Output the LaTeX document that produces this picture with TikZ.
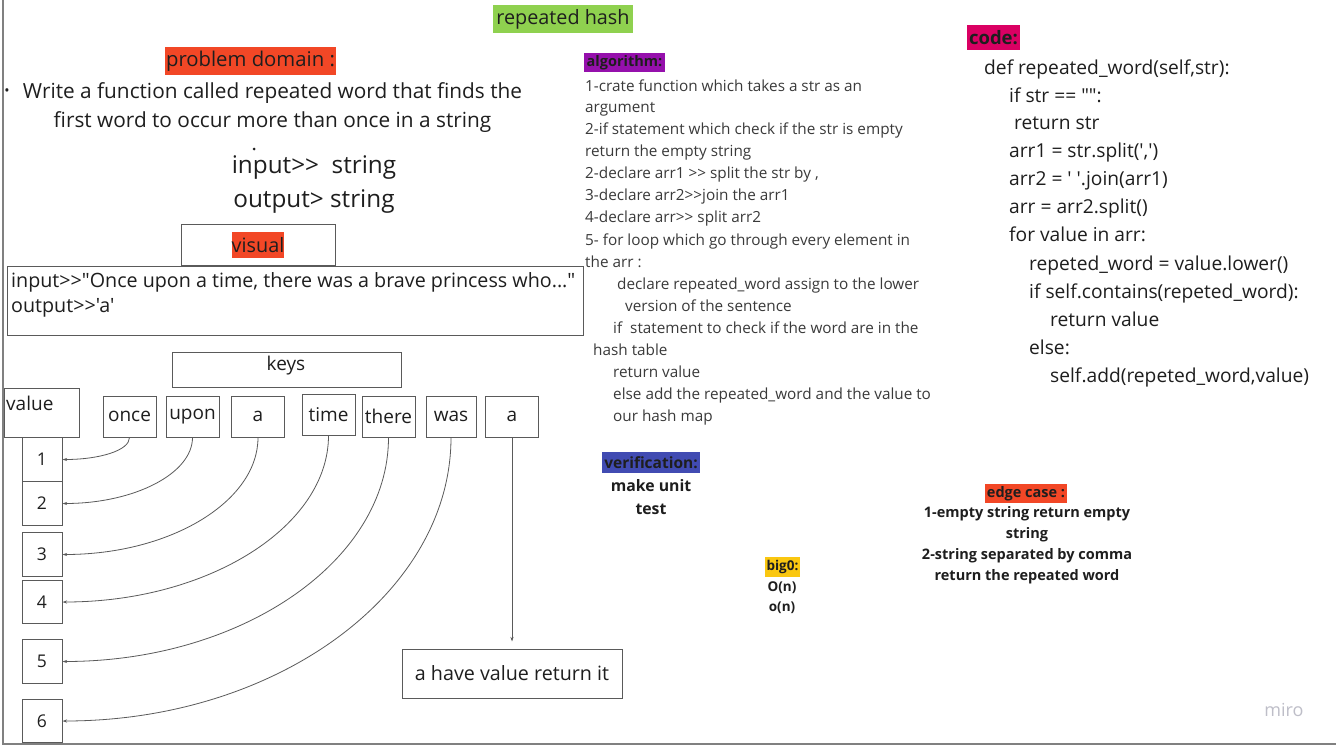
\documentclass[tikz,border=0pt]{standalone}
\usepackage{fontspec}
\setmainfont{Open Sans}
\newfontfamily\osans{Open Sans}
\usetikzlibrary{arrows.meta}
\definecolor{mgreen}{HTML}{8FD14F}
\definecolor{mred}{HTML}{F24726}
\definecolor{mpurple}{HTML}{9510AC}
\definecolor{mblue}{HTML}{414BB2}
\definecolor{mmag}{HTML}{DA0063}
\definecolor{myellow}{HTML}{FAC710}
\definecolor{txt}{HTML}{1E1E1E}
\definecolor{algtxt}{HTML}{3A3A3A}
\definecolor{boxline}{HTML}{5A5A5A}
\definecolor{frame}{HTML}{808080}
\tikzset{
  fs/.style={font=\osans\fontsize{#1}{#1}\selectfont},
  hl/.style={inner sep=0pt, text=txt},
  plainbox/.style={draw=boxline, line width=1pt, inner sep=0pt},
  keybox/.style={plainbox, minimum width=53pt, minimum height=41pt, fs=19, text=txt},
  numbox/.style={plainbox, minimum width=40pt, minimum height=43.5pt, fs=17.5, text=txt},
  algline/.style={anchor=base west, inner sep=0pt, fs=15.3, text=algtxt},
  codeline/.style={anchor=base west, inner sep=0pt, fs=19.2, text=txt},
  boldline/.style={inner sep=0pt, font=\bfseries\fontsize{14.5}{14.5}\selectfont, text=txt},
  conn/.style={draw=boxline, line width=0.8pt, -{Stealth[length=4.5pt,width=3pt]}},
}
\begin{document}
\begin{tikzpicture}[x=1pt,y=-1pt]
\useasboundingbox (0,0) rectangle (1336,747);
\fill[white] (0,0) rectangle (1336,747);
% frame
\draw[frame, line width=1.5pt] (3,0) -- (3,744) -- (1336,744);

% title
\node[hl, fill=mgreen, minimum width=140pt, minimum height=28pt, fs=19.8] (title) at (563,19) {\raisebox{-1.5pt}{repeated hash}};

% problem domain
\node[hl, fill=mred, minimum width=171pt, minimum height=28pt, fs=20.3] (pd) at (250.5,61) {\raisebox{-1.5pt}{problem domain :}};
\node[inner sep=0pt, fs=14, text=txt] (bullet) at (7,92) {•};
\node[inner sep=0pt, fs=20.8, text=txt] (pd1) at (272.5,93) {Write a function called repeated word that finds the};
\node[inner sep=0pt, fs=20.8, text=txt] (pd2) at (272.5,122) {first word to occur more than once in a string};
\fill[txt] (254,149) circle (1.5pt);
\node[inner sep=0pt, fs=24.3, text=txt] (inp) at (314,167) {input>{}>\ \ string};
\node[inner sep=0pt, fs=24.3, text=txt] (outp) at (314,201) {output> string};

% visual
\node[plainbox, minimum width=154pt, minimum height=41pt] (visbox) at (258,244.5) {};
\node[hl, fill=mred, minimum width=52pt, minimum height=26pt, fs=19.8] (vis) at (258,245) {\raisebox{-1.5pt}{visual}};
\node[plainbox, minimum width=576pt, minimum height=69pt] (inbox) at (295,300.5) {};
\node[anchor=west, inner sep=0pt, fs=19.7, text=txt] (in1) at (11,282) {input>{}>"Once upon a time, there was a brave princess who..."};
\node[anchor=west, inner sep=0pt, fs=19.7, text=txt] (in2) at (11,308) {output>{}>'a'};

% keys
\node[plainbox, minimum width=229pt, minimum height=35pt] (keys) at (286.5,369.5) {};
\node[inner sep=0pt, fs=19, text=txt] (keyst) at (286,366) {keys};
\node[plainbox, minimum width=75pt, minimum height=49pt] (value) at (41.5,412.5) {};
\node[anchor=west, inner sep=0pt, fs=19, text=txt] (valuet) at (6,403) {value};

\node[keybox] (k1) at (129.5,416.5) {once};
\node[keybox] (k2) at (192.5,416.5) {upon};
\node[keybox] (k3) at (258,416.5) {a};
\node[keybox] (k4) at (328.5,414.5) {time};
\node[keybox] (k5) at (388.5,416.5) {there};
\node[keybox, minimum width=50pt] (k6) at (451,416.5) {was};
\node[keybox] (k7) at (512,416.5) {a};

\node[numbox] (n1) at (42,459.5) {1};
\node[numbox] (n2) at (42,503.5) {2};
\node[numbox] (n3) at (42,554.5) {3};
\node[numbox] (n4) at (42,602) {4};
\node[numbox] (n5) at (42,661.5) {5};
\node[numbox] (n6) at (42,721) {6};

\node[plainbox, minimum width=220pt, minimum height=49pt, fs=19.7, text=txt] (ans) at (512,673.5) {a have value return it};

\draw[conn] (k1.south) .. controls +(0,13) and +(37,0) .. (n1.east);
\draw[conn] (k2.south) .. controls +(0,36) and +(72,0) .. (n2.east);
\draw[conn] (k3.south) .. controls +(0,64) and +(108,0) .. (n3.east);
\draw[conn] (k4.south) .. controls +(0,91) and +(146,0) .. (n4.east);
\draw[conn] (k5.south) .. controls +(0,123) and +(180,0) .. (n5.east);
\draw[conn] (k6.south) .. controls +(0,156) and +(214,0) .. (n6.east);
\draw[conn, shorten >=7pt] (k7.south) -- (ans.north);

% algorithm
\node[hl, fill=mpurple, minimum width=81pt, minimum height=19pt, font=\bfseries\fontsize{14.5}{14.5}\selectfont] (alg) at (624.5,62.5) {algorithm:};
\node[algline] (a1) at (585,91) {1-crate function which takes a str as an};
\node[algline] (a2) at (585,112) {argument};
\node[algline] (a3) at (585,134) {2-if statement which check if the str is empty};
\node[algline] (a4) at (585,156) {return the empty string};
\node[algline] (a5) at (585,178) {2-declare arr1 >{}> split the str by ,};
\node[algline] (a6) at (585,200) {3-declare arr2>{}>join the arr1};
\node[algline] (a7) at (585,222) {4-declare arr>{}> split arr2};
\node[algline] (a8) at (585,245) {5- for loop which go through every element in};
\node[algline] (a9) at (585,267) {the arr :};
\node[algline] (a10) at (617,289) {declare repeated\_word assign to the lower};
\node[algline] (a11) at (625,311) {version of the sentence};
\node[algline] (a12) at (613,333) {if\ \ statement to check if the word are in the};
\node[algline] (a13) at (593,355) {hash table};
\node[algline] (a14) at (613,377) {return value};
\node[algline] (a15) at (613,399) {else add the repeated\_word and the value to};
\node[algline] (a16) at (613,421) {our hash map};

% verification
\node[hl, fill=mblue, minimum width=98pt, minimum height=21pt, font=\bfseries\fontsize{15.5}{15.5}\selectfont] (ver) at (651,462.5) {verification:};
\node[boldline, font=\bfseries\fontsize{15.8}{15.8}\selectfont] (ver1) at (651,486) {make unit};
\node[boldline, font=\bfseries\fontsize{15.8}{15.8}\selectfont] (ver2) at (651,509) {test};

% big O
\node[hl, fill=myellow, minimum width=35pt, minimum height=20pt, font=\bfseries\fontsize{13.5}{13.5}\selectfont] (big) at (782.5,567) {big0:};
\node[boldline, font=\bfseries\fontsize{13.5}{13.5}\selectfont] (big1) at (782,588) {O(n)};
\node[boldline, font=\bfseries\fontsize{13.5}{13.5}\selectfont] (big2) at (782,608) {o(n)};

% edge case
\node[hl, fill=mred, minimum width=82pt, minimum height=19pt, font=\bfseries\fontsize{14.5}{14.5}\selectfont] (edge) at (1026,493.5) {edge case :};
\node[boldline] (e1) at (1027,514) {1-empty string return empty};
\node[boldline] (e2) at (1027,535) {string};
\node[boldline] (e3) at (1027,556) {2-string separated by comma};
\node[boldline] (e4) at (1027,577) {return the repeated word};

% code
\node[hl, fill=mmag, minimum width=53pt, minimum height=25pt, font=\bfseries\fontsize{18.5}{18.5}\selectfont] (code) at (993.5,37.5) {code:};
\node[codeline] (c1) at (984,74) {def repeated\_word(self,str):};
\node[codeline] (c2) at (1009,102) {if str == "":};
\node[codeline] (c3) at (1014,129) {return str};
\node[codeline] (c4) at (1009,157) {arr1 = str.split(',')};
\node[codeline] (c5) at (1009,185) {arr2 = ' '.join(arr1)};
\node[codeline] (c6) at (1009,213) {arr = arr2.split()};
\node[codeline] (c7) at (1009,241) {for value in arr:};
\node[codeline] (c8) at (1029,270) {repeted\_word = value.lower()};
\node[codeline] (c9) at (1029,298) {if self.contains(repeted\_word):};
\node[codeline] (c10) at (1050,326) {return value};
\node[codeline] (c11) at (1029,354) {else:};
\node[codeline] (c12) at (1050,382) {self.add(repeted\_word,value)};

% watermark
\node[inner sep=0pt, fs=18, text={rgb,255:red,190;green,190;blue,200}] (miro) at (1284,710) {miro};
\end{tikzpicture}
\end{document}
